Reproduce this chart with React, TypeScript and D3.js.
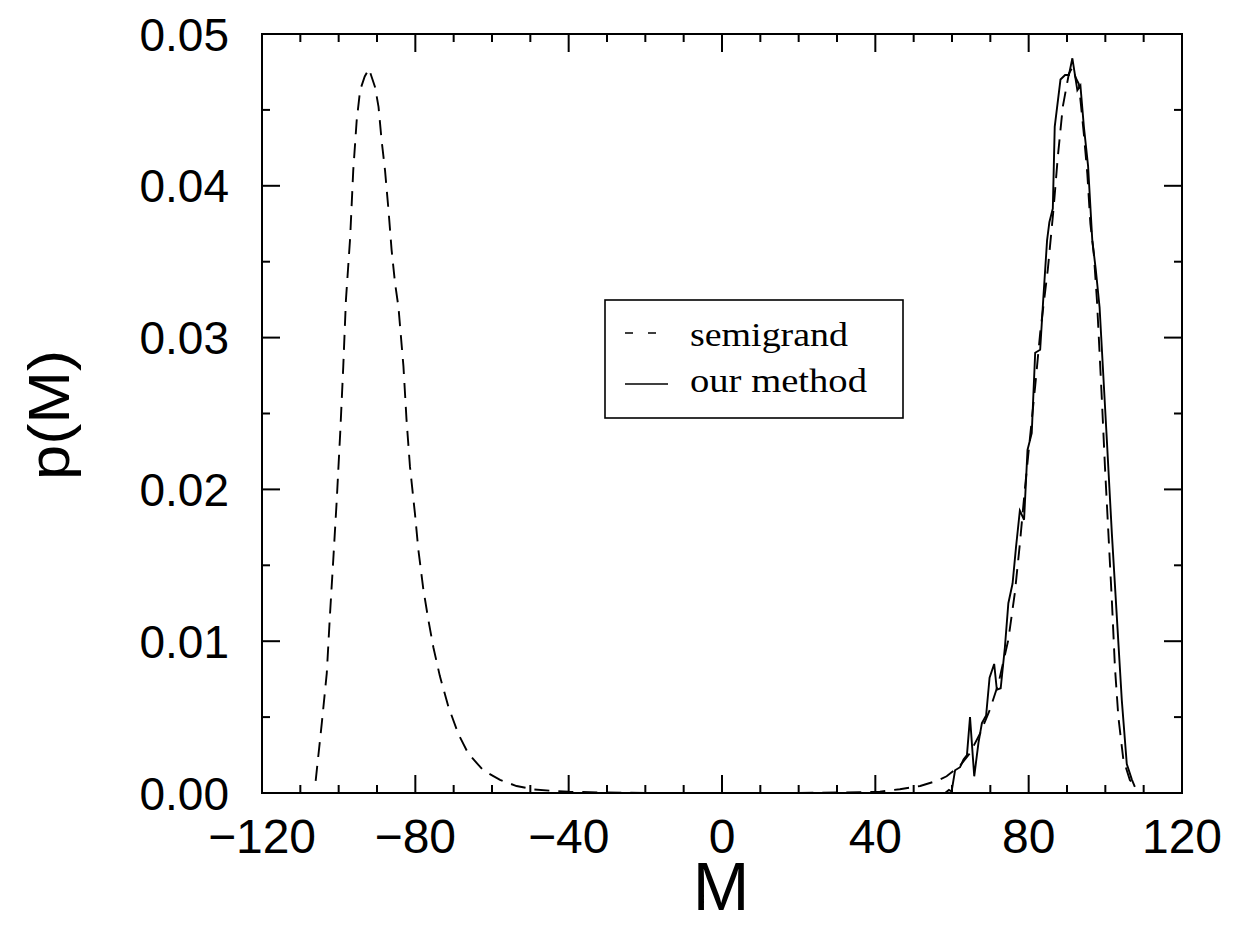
import React from "react";
import * as d3 from "d3";

// semigrand (dashed) curve: M values and p(M)
const semiM = [
  -106.0, -104.4, -103.1, -102.3, -101.4, -100.5, -99.6, -98.8, -98.1, -97.0, -96.2, -95.3, -94.4, -93.2, -92.1,
  -90.5, -89.6, -88.8, -87.9, -87.0, -86.2, -85.3, -84.4, -83.1, -82.3, -81.4, -80.1, -79.2, -77.9, -76.6,
  -75.3, -73.6, -71.4, -68.8, -66.2, -62.3, -57.9, -53.6, -49.2, -44.9, -40, -30, -20, 0, 20, 30, 36,
  41.2, 46.4, 51.7, 56.0, 58.6, 62.1, 64.6, 67.3, 69.9, 72.1, 74.7, 76.4, 77.7, 79.0, 80.3, 81.7, 83.0,
  85.0, 86.5, 87.6, 88.9, 90.5, 91.4, 92.3, 93.1, 94.4, 95.3, 96.1, 97.0, 97.8, 98.3, 99.1, 99.9, 100.8,
  101.7, 102.5, 103.4, 104.7, 106.4, 107.7,
];
const semiP = [
  0.0008, 0.0046, 0.0079, 0.0116, 0.0154, 0.0193, 0.0237, 0.0281, 0.0325, 0.0366, 0.041, 0.0443, 0.0463, 0.0472, 0.0477,
  0.0465, 0.0452, 0.043, 0.041, 0.0384, 0.0358, 0.0336, 0.032, 0.0281, 0.0246, 0.0215, 0.0184, 0.016, 0.0134, 0.0114,
  0.0096, 0.0077, 0.0057, 0.0039, 0.0026, 0.0015, 0.00086, 0.00046, 0.00024, 0.00015, 0.00008, 0.00003, 0.00001, 0.000005, 0.00001, 0.00003, 0.00005,
  0.00009, 0.00025, 0.00046, 0.0008, 0.0011, 0.0018, 0.0026, 0.0039, 0.0055, 0.0072, 0.0101, 0.0132, 0.0164, 0.02, 0.0233, 0.0268, 0.0303,
  0.0345, 0.0385, 0.0419, 0.0452, 0.0474, 0.0478, 0.0471, 0.0467, 0.0434, 0.0408, 0.0375, 0.0355, 0.0325, 0.03, 0.0259, 0.0215, 0.0171,
  0.0127, 0.0083, 0.005, 0.0022, 0.00086, 0.0004,
];

// "our method" (solid) curve
const ourM = [
  58.2, 59.2, 59.9, 60.8, 62.1, 63.0, 63.9, 64.7, 65.8, 66.9, 67.8, 68.9, 69.8, 71.0, 71.7, 72.7, 73.8, 74.7,
  75.8, 76.7, 77.7, 78.8, 79.7, 80.8, 81.7, 83.0, 83.8, 84.8, 85.4, 86.3, 86.8, 88.3, 89.5, 90.5, 91.4, 92.7,
  93.5, 94.4, 95.5, 96.6, 97.5, 98.5, 100.3, 101.7, 103.0, 104.3, 105.6, 106.9, 107.7,
];
const ourP = [
  0, 0.0002, 0.0001, 0.0015, 0.0017, 0.0022, 0.0025, 0.005, 0.0011, 0.0033, 0.0046, 0.0051, 0.0076, 0.0085, 0.0068, 0.0069, 0.0096, 0.0125,
  0.0138, 0.0162, 0.0186, 0.018, 0.0226, 0.0237, 0.029, 0.0292, 0.0325, 0.0364, 0.0376, 0.0385, 0.0439, 0.047, 0.0473, 0.0473, 0.0484, 0.0463,
  0.0466, 0.0439, 0.0413, 0.0364, 0.0345, 0.032, 0.0237, 0.0171, 0.0116, 0.0061, 0.0019, 0.0009, 0.0004,
];

const xMajor = [-120, -80, -40, 0, 40, 80, 120];
const xMinor = d3.range(-110, 120, 10).filter((v) => v % 40 !== 0);
const yMajor = [0, 0.01, 0.02, 0.03, 0.04, 0.05];
const yMinor = [0.005, 0.015, 0.025, 0.035, 0.045];
const xLabels = ["\u2212120", "\u221280", "\u221240", "0", "40", "80", "120"];
const yLabels = ["0.00", "0.01", "0.02", "0.03", "0.04", "0.05"];

const L = 262, R = 1182, T = 34, B = 793;
const sans = "'Liberation Sans', Arial, Helvetica, sans-serif";
const serif = "'Liberation Serif', 'Times New Roman', serif";

export default function App() {
  const x = d3.scaleLinear().domain([-120, 120]).range([L, R]);
  const y = d3.scaleLinear().domain([0, 0.05]).range([B, T]);
  const line = d3
    .line<[number, number]>()
    .x((d) => x(d[0]))
    .y((d) => y(d[1]));
  const semi = semiM.map((m, i) => [m, semiP[i]] as [number, number]);
  const our = ourM.map((m, i) => [m, ourP[i]] as [number, number]);
  const maj = 18, min = 8;

  return (
    <svg width={1237} height={926} style={{ position: "absolute", left: 0, top: 0, background: "#fff" }}>
      <rect x={0} y={0} width={1237} height={926} fill="#fff" />
      <defs>
        <clipPath id="plot">
          <rect x={L} y={T} width={R - L} height={B - T} />
        </clipPath>
      </defs>
      <g clipPath="url(#plot)">
        <path d={line(semi) || ""} fill="none" stroke="#000" strokeWidth={1.9} strokeDasharray="15,9" />
        <path d={line(our) || ""} fill="none" stroke="#000" strokeWidth={1.9} strokeLinejoin="miter" />
      </g>
      {/* ticks */}
      <g stroke="#000" strokeWidth={2}>
        {xMajor.map((v) => (
          <g key={"xM" + v}>
            <line x1={x(v)} x2={x(v)} y1={B} y2={B - maj} />
            <line x1={x(v)} x2={x(v)} y1={T} y2={T + maj} />
          </g>
        ))}
        {xMinor.map((v) => (
          <g key={"xm" + v}>
            <line x1={x(v)} x2={x(v)} y1={B} y2={B - min} />
            <line x1={x(v)} x2={x(v)} y1={T} y2={T + min} />
          </g>
        ))}
        {yMajor.map((v) => (
          <g key={"yM" + v}>
            <line x1={L} x2={L + maj} y1={y(v)} y2={y(v)} />
            <line x1={R} x2={R - maj} y1={y(v)} y2={y(v)} />
          </g>
        ))}
        {yMinor.map((v) => (
          <g key={"ym" + v}>
            <line x1={L} x2={L + min} y1={y(v)} y2={y(v)} />
            <line x1={R} x2={R - min} y1={y(v)} y2={y(v)} />
          </g>
        ))}
      </g>
      <rect x={L} y={T} width={R - L} height={B - T} fill="none" stroke="#000" strokeWidth={2} />
      {/* tick labels */}
      <g fontFamily={sans} fontSize={48} fill="#000" textAnchor="middle">
        {xMajor.map((v, i) => (
          <text key={"xl" + v} x={x(v)} y={853}>
            {xLabels[i]}
          </text>
        ))}
      </g>
      <g fontFamily={sans} fontSize={46} fill="#000" textAnchor="end">
        {yMajor.map((v, i) => (
          <text key={"yl" + v} x={229} y={y(v) + 16.5}>
            {yLabels[i]}
          </text>
        ))}
      </g>
      {/* axis titles */}
      <text x={721} y={910} fontFamily={sans} fontSize={68} textAnchor="middle" fill="#000">
        M
      </text>
      <text
        transform="translate(69,415) rotate(-90)"
        fontFamily={sans}
        fontSize={58}
        textAnchor="middle"
        fill="#000"
        textLength={130}
        lengthAdjust="spacingAndGlyphs"
      >
        p(M)
      </text>
      {/* legend */}
      <rect x={605} y={300} width={298} height={118} fill="#fff" stroke="#000" strokeWidth={1.6} />
      <line x1={625} x2={668} y1={333} y2={333} stroke="#000" strokeWidth={1.6} strokeDasharray="8,15" />
      <line x1={625} x2={668} y1={384} y2={384} stroke="#000" strokeWidth={1.6} />
      <text x={690} y={346} fontFamily={serif} fontSize={34} fill="#000" textLength={158} lengthAdjust="spacingAndGlyphs">
        semigrand
      </text>
      <text x={690} y={392} fontFamily={serif} fontSize={34} fill="#000" textLength={177} lengthAdjust="spacingAndGlyphs">
        our method
      </text>
    </svg>
  );
}
